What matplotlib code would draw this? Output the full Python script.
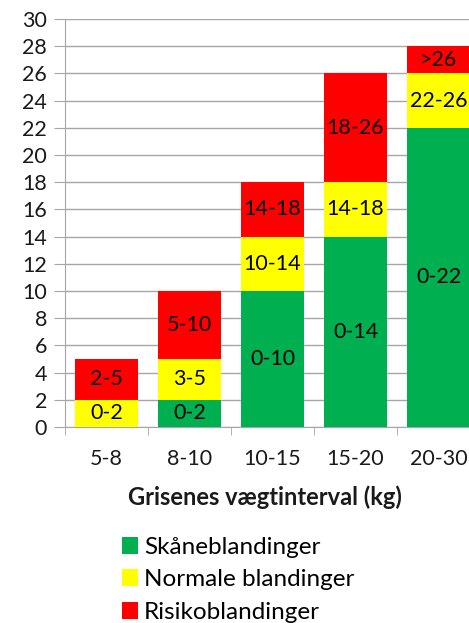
import matplotlib
matplotlib.use("Agg")
import matplotlib.pyplot as plt
import numpy as np
from matplotlib.patches import Patch

categories = ["5-8", "8-10", "10-15", "15-20", "20-30"]
skaane = [0, 2, 10, 14, 22]
normale = [2, 3, 4, 4, 4]
risiko = [3, 5, 4, 8, 2]
skaane_labels = ["", "0-2", "0-10", "0-14", "0-22"]
normale_labels = ["0-2", "3-5", "10-14", "14-18", "22-26"]
risiko_labels = ["2-5", "5-10", "14-18", "18-26", ">26"]
series_names = ["Skåneblandinger", "Normale blandinger", "Risikoblandinger"]
colors = ["#00B050", "#FFFF00", "#FF0000"]
yticks = list(range(0, 31, 2))

plt.rcParams['font.family'] = ['Lato', 'DejaVu Sans']

W, H = 469, 623
fig = plt.figure(figsize=(W / 100, H / 100), dpi=100)
ax = fig.add_axes([65 / W, (H - 427) / H, 415 / W, 408 / H])

x = np.arange(len(categories))
grid_c = "#A6A6A6"
txt_c = "#1a1a1a"
bottom = np.zeros(len(categories))
for vals, labs, col in zip([skaane, normale, risiko],
                           [skaane_labels, normale_labels, risiko_labels], colors):
    ax.bar(x, vals, bottom=bottom, width=0.76, color=col, zorder=3)
    for xi, b, v, lab in zip(x, bottom, vals, labs):
        if v > 0 and lab:
            ax.text(xi, b + v / 2, lab, ha="center", va="center",
                    fontsize=15.5, color="black", zorder=4)
    bottom += np.array(vals)

ax.set_xlim(-0.5, len(categories) - 0.5)
ax.set_ylim(0, 30)
ax.set_yticks(yticks)
ax.set_yticklabels([str(t) for t in yticks], fontsize=15.5, color=txt_c)
ax.set_xticks(x)
ax.set_xticklabels(categories, fontsize=15.5, color=txt_c)
ax.set_xticks(np.arange(-0.5, len(categories), 1), minor=True)
ax.tick_params(axis="x", which="major", length=0, pad=16)
ax.tick_params(axis="x", which="minor", length=6, color=grid_c)
ax.tick_params(axis="y", length=8, color=grid_c, pad=5)
ax.yaxis.grid(True, color=grid_c, linewidth=1, zorder=0)
for s in ["top", "right"]:
    ax.spines[s].set_visible(False)
for s in ["left", "bottom"]:
    ax.spines[s].set_color(grid_c)

fig.text(265 / W, 1 - 497 / H, "Grisenes vægtinterval (kg)", ha="center", va="center",
         fontsize=17, fontweight="bold", color=txt_c)

fig.text(0 / W, 1 + 4 / H, "Opp. grænse for sojaprotein (%)", ha="left", va="baseline",
         fontsize=17, fontweight="bold", color=txt_c)

handles = [Patch(facecolor=c, edgecolor="none") for c in colors]
fig.legend(handles, series_names, loc="upper left", bbox_to_anchor=(122 / W, 1 - 537 / H),
           frameon=False, fontsize=17.5, handlelength=0.65, handleheight=0.7,
           handletextpad=0.25, labelspacing=0.47, borderpad=0, borderaxespad=0)

fig.savefig("out.png", dpi=100)
